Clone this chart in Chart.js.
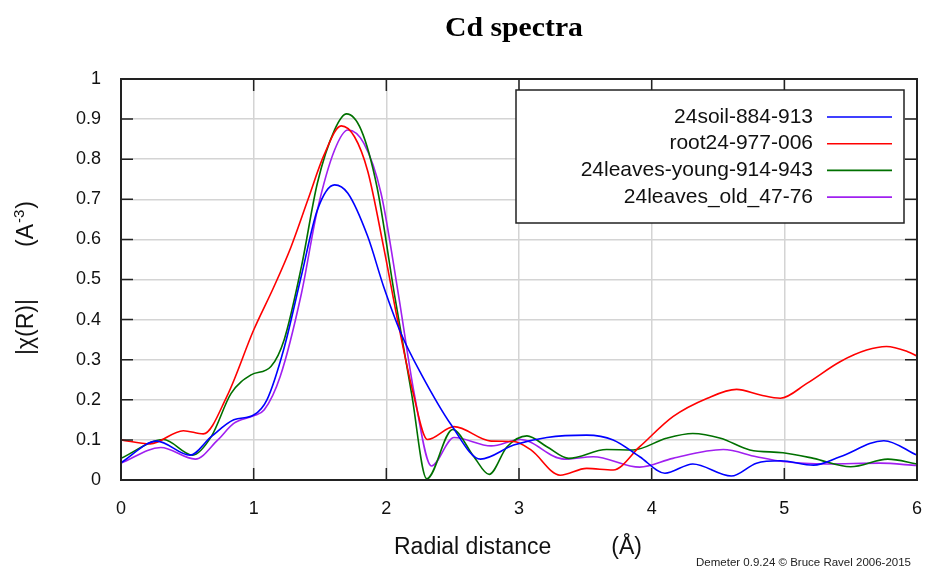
<!doctype html>
<html lang="en">
<head>
	<meta charset="utf-8">
	<title>Cd spectra</title>
	<style>
		html, body { margin:0; padding:0; background:#fff; }
		#cdChart { display:block; }
	</style>
</head>
<body>
	<canvas id="cdChart" width="927" height="570"></canvas>
	<script src="https://cdn.jsdelivr.net/npm/chart.js@4.4.1/dist/chart.umd.min.js"></script>
	<script>
		// values (R in Angstrom, |chi(R)|)
		var soilR = [0, 0.27, 0.52, 0.68, 0.85, 1.0, 1.10, 1.23, 1.36, 1.48, 1.61, 1.71, 1.86, 1.98, 2.11, 2.26, 2.49, 2.71, 2.96, 3.21, 3.51, 3.71, 3.91, 4.10, 4.31, 4.60, 4.79, 4.97, 5.22, 5.42, 5.75, 6.0];
		var soilChi = [0.043, 0.097, 0.062, 0.108, 0.150, 0.162, 0.20, 0.33, 0.51, 0.673, 0.736, 0.715, 0.607, 0.482, 0.366, 0.266, 0.137, 0.052, 0.087, 0.106, 0.112, 0.10, 0.058, 0.017, 0.040, 0.010, 0.042, 0.048, 0.037, 0.058, 0.098, 0.062];

		var rootR = [0, 0.22, 0.47, 0.62, 0.80, 1.0, 1.15, 1.28, 1.41, 1.53, 1.66, 1.76, 1.86, 1.98, 2.09, 2.20, 2.31, 2.51, 2.79, 2.96, 3.09, 3.31, 3.51, 3.71, 3.91, 4.16, 4.42, 4.64, 4.82, 4.97, 5.17, 5.42, 5.62, 5.77, 5.93, 6.0];
		var rootChi = [0.100, 0.090, 0.123, 0.115, 0.21, 0.374, 0.48, 0.58, 0.70, 0.81, 0.883, 0.856, 0.77, 0.58, 0.39, 0.22, 0.101, 0.133, 0.097, 0.096, 0.075, 0.012, 0.029, 0.025, 0.083, 0.158, 0.204, 0.226, 0.212, 0.204, 0.241, 0.295, 0.324, 0.333, 0.32, 0.309];

		var youngR = [0, 0.32, 0.54, 0.68, 0.83, 0.98, 1.13, 1.23, 1.36, 1.48, 1.61, 1.70, 1.81, 1.93, 2.06, 2.19, 2.305, 2.5, 2.66, 2.775, 2.91, 3.06, 3.21, 3.375, 3.66, 3.86, 4.11, 4.31, 4.52, 4.74, 4.99, 5.22, 5.50, 5.78, 6.0];
		var youngChi = [0.054, 0.101, 0.062, 0.108, 0.216, 0.262, 0.283, 0.35, 0.532, 0.74, 0.873, 0.913, 0.873, 0.73, 0.465, 0.216, 0.003, 0.126, 0.058, 0.014, 0.083, 0.11, 0.083, 0.054, 0.076, 0.075, 0.104, 0.116, 0.104, 0.075, 0.068, 0.054, 0.033, 0.052, 0.04];

		var oldR = [0, 0.30, 0.56, 0.73, 0.85, 1.0, 1.08, 1.20, 1.36, 1.48, 1.61, 1.71, 1.83, 1.96, 2.09, 2.21, 2.34, 2.51, 2.79, 3.01, 3.34, 3.56, 3.91, 4.16, 4.54, 4.79, 4.99, 5.32, 5.72, 6.0];
		var oldChi = [0.042, 0.081, 0.052, 0.100, 0.141, 0.160, 0.175, 0.258, 0.465, 0.673, 0.823, 0.873, 0.84, 0.715, 0.465, 0.216, 0.035, 0.106, 0.085, 0.101, 0.052, 0.058, 0.032, 0.054, 0.076, 0.058, 0.046, 0.040, 0.042, 0.036];

		var seriesNames = ["24soil-884-913", "root24-977-006", "24leaves-young-914-943", "24leaves_old_47-76"];
		var seriesColors = ["#0000ff", "#ff0000", "#007000", "#a020f0"];

		function toPoints(xs, ys)
		{
			return xs.map(function(x, i) { return { x:x, y:ys[i] }; });
		}

		var allSeries = [
			toPoints(soilR, soilChi),
			toPoints(rootR, rootChi),
			toPoints(youngR, youngChi),
			toPoints(oldR, oldChi)
		];

		var sansFont = '"Liberation Sans", Arial, sans-serif';

		// gnuplot-like frame, inward ticks, legend box and the texts
		var demeterDecor = {
			id:'demeterDecor',
			afterDraw:function(chart)
			{
				var ctx = chart.ctx;
				var area = chart.chartArea;
				var xs = chart.scales.x;
				var ys = chart.scales.y;
				var tick = 12;

				ctx.save();
				ctx.strokeStyle = '#222';
				ctx.lineWidth = 1.5;
				ctx.beginPath();
				xs.ticks.forEach(function(t)
				{
					var px = xs.getPixelForValue(t.value);
					ctx.moveTo(px, area.bottom); ctx.lineTo(px, area.bottom - tick);
					ctx.moveTo(px, area.top); ctx.lineTo(px, area.top + tick);
				});
				ys.ticks.forEach(function(t)
				{
					var py = ys.getPixelForValue(t.value);
					ctx.moveTo(area.left, py); ctx.lineTo(area.left + tick, py);
					ctx.moveTo(area.right, py); ctx.lineTo(area.right - tick, py);
				});
				ctx.stroke();

				ctx.lineWidth = 2;
				ctx.strokeRect(area.left, area.top, area.right - area.left, area.bottom - area.top);

				// legend
				var boxL = area.left + 395, boxT = area.top + 11, boxR = area.right - 13, boxB = area.top + 144;
				ctx.fillStyle = '#fff';
				ctx.fillRect(boxL, boxT, boxR - boxL, boxB - boxT);
				ctx.lineWidth = 1.5;
				ctx.strokeStyle = '#222';
				ctx.strokeRect(boxL, boxT, boxR - boxL, boxB - boxT);
				ctx.font = '21px ' + sansFont;
				ctx.textAlign = 'right';
				ctx.textBaseline = 'middle';
				seriesNames.forEach(function(name, i)
				{
					var rowY = boxT + 27 + i * 26.7;
					ctx.fillStyle = '#111';
					ctx.fillText(name, boxR - 91, rowY);
					ctx.strokeStyle = seriesColors[i];
					ctx.lineWidth = 1.6;
					ctx.beginPath();
					ctx.moveTo(boxR - 77, rowY);
					ctx.lineTo(boxR - 12, rowY);
					ctx.stroke();
				});

				// title, bold serif
				ctx.fillStyle = '#000';
				ctx.font = 'bold 27px "Liberation Serif", "Times New Roman", serif';
				ctx.textAlign = 'left';
				ctx.textBaseline = 'alphabetic';
				var title = 'Cd spectra';
				var w = ctx.measureText(title).width;
				ctx.save();
				ctx.translate(445, 36);
				ctx.scale(138 / w, 1);
				ctx.fillText(title, 0, 0);
				ctx.restore();

				// y axis title
				ctx.save();
				ctx.translate(33, 355);
				ctx.rotate(-Math.PI / 2);
				ctx.font = '23px ' + sansFont;
				ctx.fillStyle = '#111';
				ctx.fillText('|\u03c7(R)|', 0, 0);
				var u = 108;
				ctx.fillText('(A', u, 0);
				u += ctx.measureText('(A').width;
				ctx.font = '15px ' + sansFont;
				ctx.fillText('-3', u + 1, -9);
				u += ctx.measureText('-3').width + 2;
				ctx.font = '23px ' + sansFont;
				ctx.fillText(')', u, 0);
				ctx.restore();

				// x axis title
				ctx.font = '23px ' + sansFont;
				ctx.fillStyle = '#111';
				ctx.textAlign = 'left';
				ctx.fillText('Radial distance', 394, 554);
				ctx.textAlign = 'right';
				ctx.fillText('(\u00c5)', 642, 554);

				// footer
				ctx.font = '11.5px ' + sansFont;
				ctx.fillStyle = '#222';
				ctx.fillText('Demeter 0.9.24 \u00a9 Bruce Ravel 2006-2015', 911, 566);
				ctx.restore();
			}
		};

		var cdChart = new Chart(
			"cdChart",
			{
				type:'line',
				data:{
					datasets:allSeries.map(function(points, i)
					{
						return {
							label:seriesNames[i],
							data:points,
							borderColor:seriesColors[i],
							backgroundColor:seriesColors[i],
							borderWidth:1.6,
							pointRadius:0,
							fill:false,
							cubicInterpolationMode:'monotone'
						};
					})
				},
				options:{
					responsive:false,
					animation:false,
					layout:{ padding:{ left:0, right:10, top:79, bottom:0 } },
					plugins:{
						legend:{ display:false },
						title:{ display:false },
						tooltip:{ enabled:false }
					},
					scales:{
						x:{
							type:'linear',
							min:0,
							max:6,
							ticks:{ stepSize:1, padding:18, color:'#111', font:{ family:sansFont, size:18 } },
							grid:{ color:'#d4d4d4', lineWidth:1.5, drawTicks:false },
							border:{ display:false },
							afterFit:function(scale)
							{
								scale.height = 90;
								scale.paddingLeft = 0;
								scale.paddingRight = 0;
							}
						},
						y:{
							min:0,
							max:1,
							ticks:{
								stepSize:0.1,
								padding:20,
								color:'#111',
								font:{ family:sansFont, size:18 },
								callback:function(value) { return String(Math.round(value * 10) / 10); }
							},
							grid:{ color:'#d4d4d4', lineWidth:1.5, drawTicks:false },
							border:{ display:false },
							afterFit:function(scale)
							{
								scale.width = 121;
								scale.paddingTop = 0;
								scale.paddingBottom = 0;
							}
						}
					}
				},
				plugins:[demeterDecor]
			});
	</script>
</body>
</html>
